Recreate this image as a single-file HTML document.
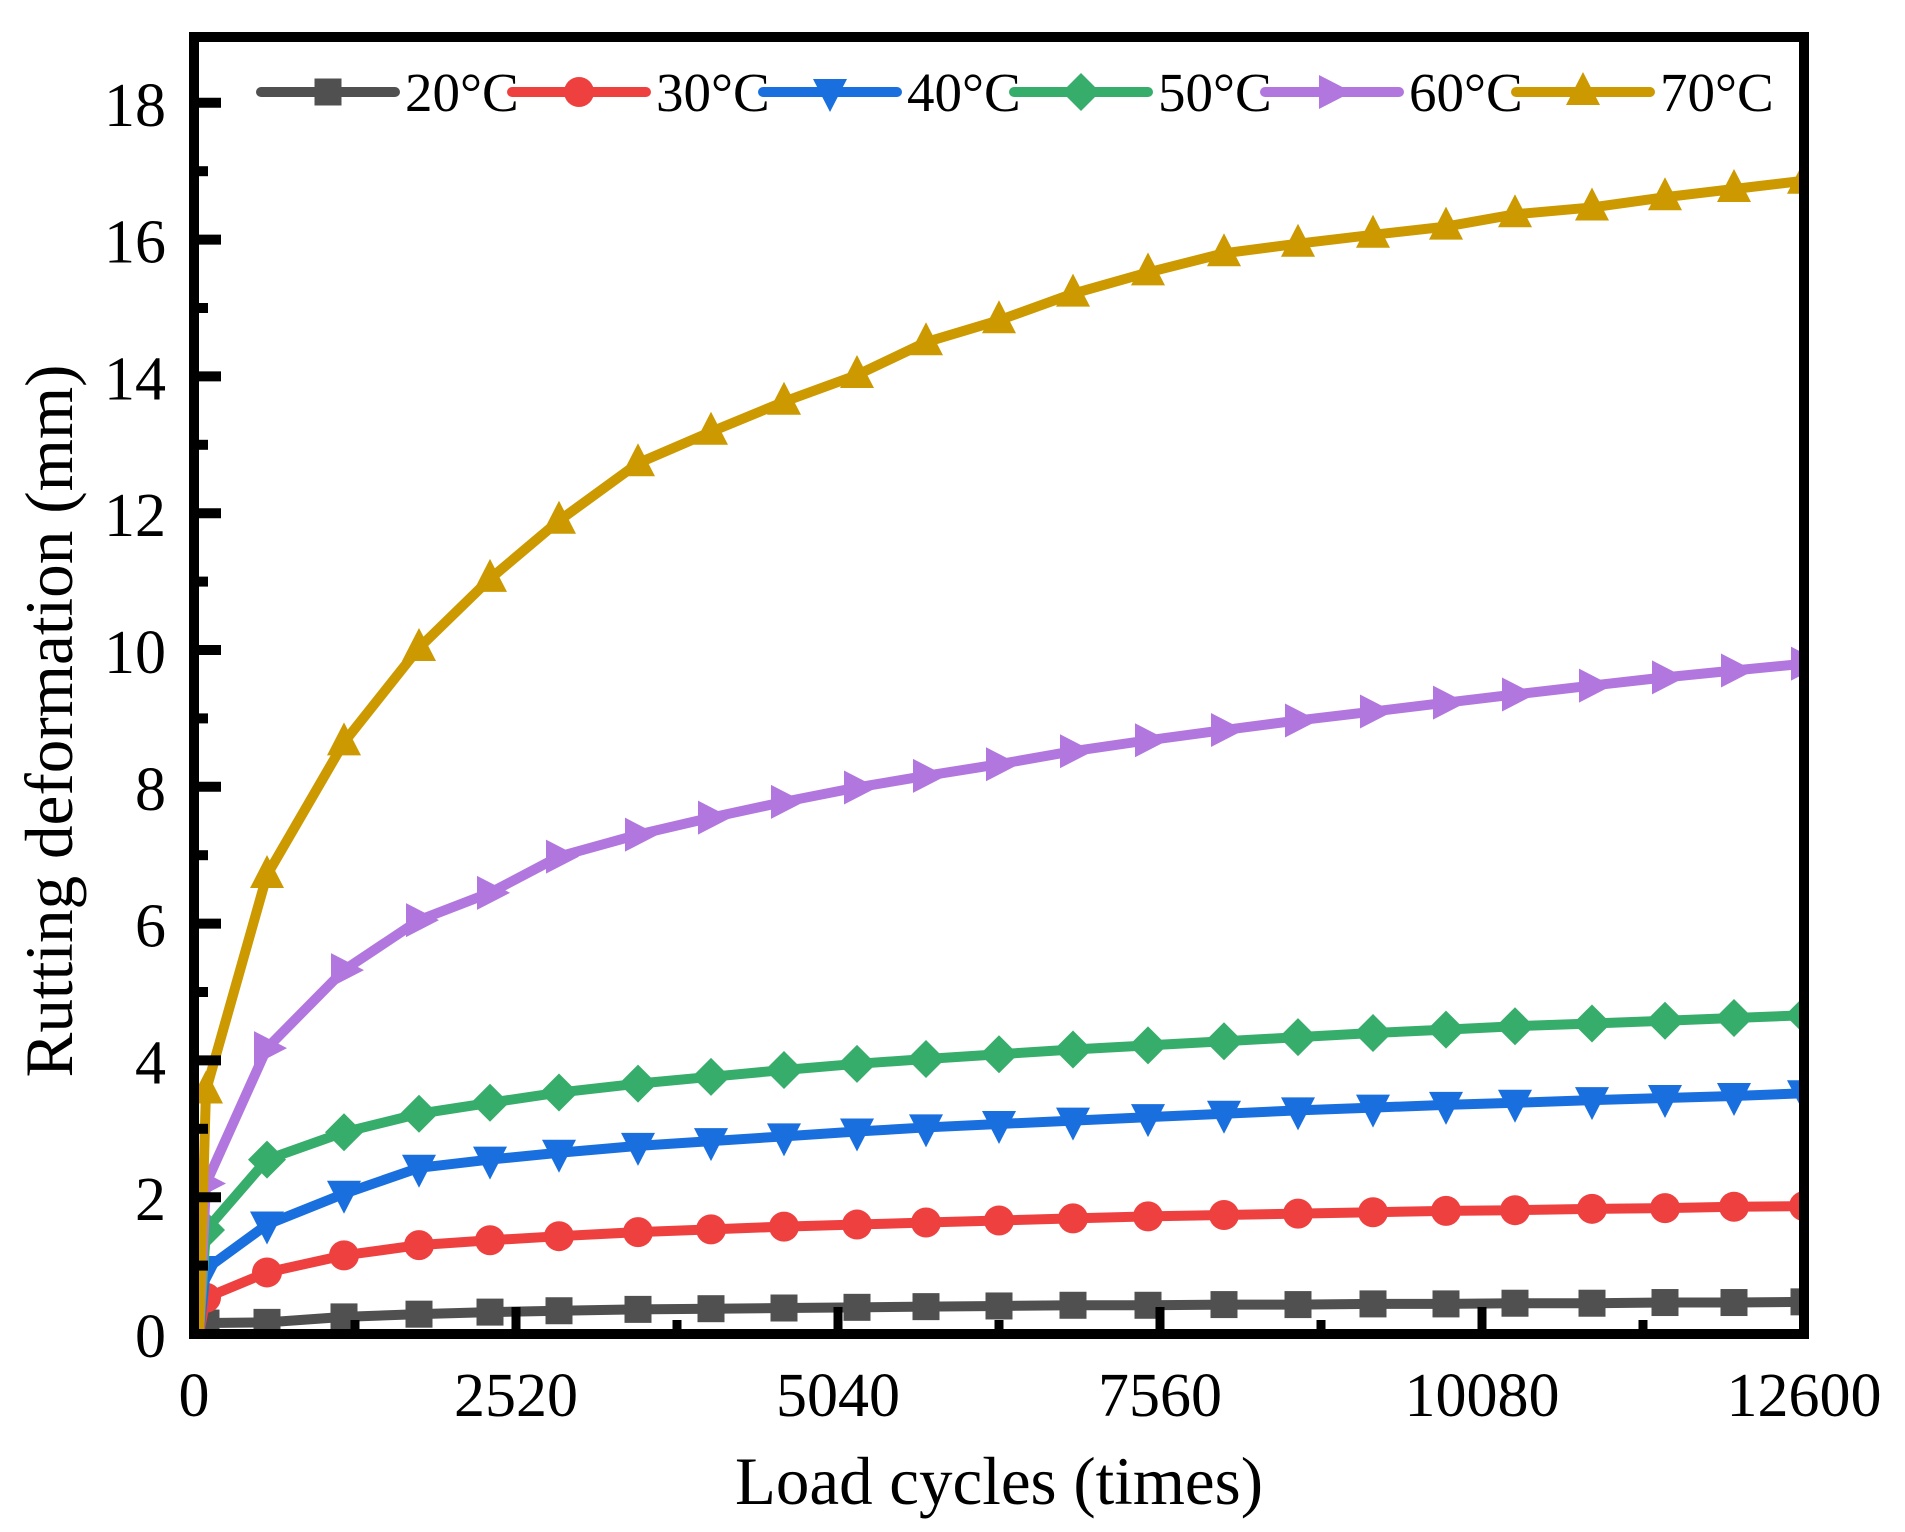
<!DOCTYPE html>
<html><head><meta charset="utf-8"><style>
html,body{margin:0;padding:0;background:#fff;}
svg{display:block;}
text{font-family:"Liberation Serif",serif;fill:#000;}
</style></head><body>
<svg id="s" width="1905" height="1532" xmlns="http://www.w3.org/2000/svg"></svg>
<script>
const s=document.getElementById('s');
let h='';
const X0=194,Y0=1334,KY=68.4,KX=(1804-194)/12600;
const ys=v=>Y0-v*KY;
const xs=[267,344,419,490,559,638,711,784,857,926,999,1073,1148,1224,1298,1373,1446,1515,1592,1665,1734,1804];
const series=[
 {c:'#505050',m:'sq',f:0.16,d:[0.17,0.25,0.29,0.32,0.34,0.36,0.37,0.38,0.39,0.4,0.41,0.42,0.42,0.43,0.43,0.44,0.44,0.45,0.45,0.46,0.46,0.47]},
 {c:'#EF4040',m:'ci',f:0.53,d:[0.9,1.15,1.3,1.37,1.43,1.49,1.53,1.57,1.6,1.63,1.66,1.69,1.72,1.74,1.76,1.78,1.8,1.81,1.83,1.84,1.86,1.87]},
 {c:'#1A6FDF',m:'dn',f:0.95,d:[1.6,2.05,2.43,2.55,2.65,2.75,2.82,2.89,2.96,3.02,3.07,3.12,3.17,3.22,3.27,3.31,3.35,3.38,3.42,3.45,3.48,3.52]},
 {c:'#37AD6B',m:'di',f:1.52,d:[2.55,2.95,3.22,3.38,3.53,3.66,3.76,3.86,3.95,4.02,4.09,4.16,4.22,4.28,4.34,4.4,4.45,4.5,4.54,4.58,4.62,4.66]},
 {c:'#B177DE',m:'rt',f:2.2,d:[4.18,5.32,6.05,6.45,6.98,7.3,7.55,7.78,7.99,8.16,8.33,8.52,8.68,8.83,8.97,9.1,9.23,9.35,9.48,9.6,9.7,9.8]},
 {c:'#CC9900',m:'up',f:3.56,d:[6.71,8.65,10.03,11.04,11.89,12.73,13.19,13.63,14.02,14.5,14.82,15.21,15.52,15.8,15.94,16.07,16.19,16.37,16.47,16.62,16.74,16.86]}
];
function mk(t,x,y,c){
 if(t=='sq')return `<rect x="${x-13.5}" y="${y-13.5}" width="27" height="27" fill="${c}"/>`;
 if(t=='ci')return `<circle cx="${x}" cy="${y}" r="15" fill="${c}"/>`;
 if(t=='di')return `<polygon points="${x},${y-19} ${x+19},${y} ${x},${y+19} ${x-19},${y}" fill="${c}"/>`;
 if(t=='up')return `<polygon points="${x},${y-20} ${x+17},${y+13} ${x-17},${y+13}" fill="${c}"/>`;
 if(t=='dn')return `<polygon points="${x},${y+20} ${x+17},${y-13} ${x-17},${y-13}" fill="${c}"/>`;
 if(t=='rt')return `<polygon points="${x+20},${y} ${x-13},${y+17} ${x-13},${y-17}" fill="${c}"/>`;
}
h+=`<clipPath id="cp"><rect x="194" y="37" width="1610" height="1297"/></clipPath><g clip-path="url(#cp)">`;
series.forEach(S=>{
 let pts=[[199,Y0],[206,ys(S.f)]];
 S.d.forEach((v,i)=>pts.push([xs[i],ys(v)]));
 h+=`<polyline points="${pts.map(p=>p.join(',')).join(' ')}" fill="none" stroke="${S.c}" stroke-width="10" stroke-linejoin="round"/>`;
 pts.slice(1).forEach(p=>h+=mk(S.m,p[0],p[1],S.c));
});
h+='</g>';
h+=`<rect x="194" y="37" width="1610" height="1297" fill="none" stroke="#000" stroke-width="10"/>`;
for(let v=1;v<=18;v++){const y=ys(v);const L=v%2==0?27:14;h+=`<line x1="194" x2="${194+L}" y1="${y}" y2="${y}" stroke="#000" stroke-width="10"/>`;}
for(let v=0;v<=18;v+=2){h+=`<text x="166" y="${ys(v)+23}" font-size="62" text-anchor="end">${v}</text>`;}
for(let k=1;k<10;k++){const x=X0+k*1260*KX;const L=k%2==0?27:14;h+=`<line x1="${x}" x2="${x}" y1="1334" y2="${1334-L}" stroke="#000" stroke-width="9"/>`;}
for(let k=0;k<=5;k++){h+=`<text x="${X0+k*2520*KX}" y="1416" font-size="62" text-anchor="middle">${k*2520}</text>`;}
h+=`<text x="999" y="1504" font-size="68" text-anchor="middle" textLength="528" lengthAdjust="spacingAndGlyphs">Load cycles (times)</text>`;
h+=`<text transform="translate(72,721) rotate(-90)" font-size="68" text-anchor="middle" textLength="713" lengthAdjust="spacingAndGlyphs">Rutting deformation (mm)</text>`;
const labs=['20°C','30°C','40°C','50°C','60°C','70°C'];
series.forEach((S,i)=>{const x=261+i*251;h+=`<line x1="${x}" x2="${x+134}" y1="92" y2="92" stroke="${S.c}" stroke-width="10" stroke-linecap="round"/>`+mk(S.m,x+67,92,S.c)+`<text x="${x+144}" y="111" font-size="55">${labs[i]}</text>`;});
s.innerHTML=h;
</script>
</body></html>
